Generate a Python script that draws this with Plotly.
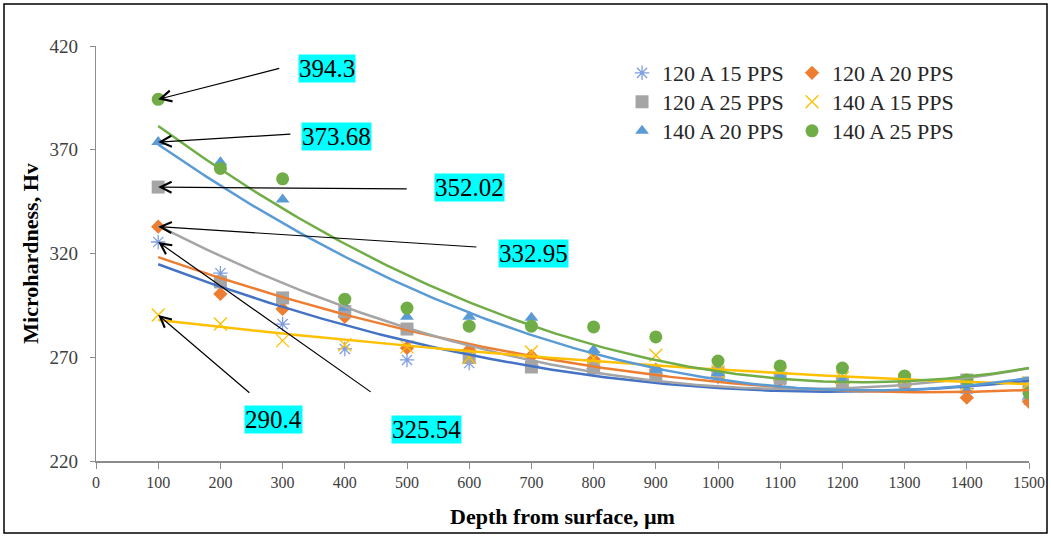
import numpy as np
import plotly.graph_objects as go

depth = [100, 200, 300, 400, 500, 600, 700, 800, 900, 1000, 1100, 1200, 1300, 1400, 1500]

s_120_15 = [325.54, 310.5, 286, 274, 268.7, 267.2, 266, 264.5, 262, 260.5, 259, 257.5, 257, 255, 249.5]
s_120_20 = [332.95, 300.5, 293.3, 289.5, 274.5, 273.5, 270.5, 269, 264, 261.5, 259, 257.5, 256.5, 250.5, 248.5]
s_120_25 = [352.02, 306.3, 298.6, 292, 283.6, 270, 265.3, 264.8, 261, 262.4, 260, 257.5, 258.5, 259, 257.6]
s_140_15 = [290.4, 286, 278, 276, 275, 270, 272.5, 269.6, 271, 263, 262, 260, 259, 257, 257.6]
s_140_20 = [373.68, 364, 346, 294, 289.5, 289.5, 289, 273.5, 264, 262.4, 261, 259, 260, 254, 251.5]
s_140_25 = [394.3, 361, 356, 298, 293.7, 285, 285, 284.6, 279.8, 268.2, 265.8, 264.8, 261, 259, 252.8]

names = ["120 A 15 PPS", "120 A 20 PPS", "120 A 25 PPS", "140 A 15 PPS", "140 A 20 PPS", "140 A 25 PPS"]
series = [s_120_15, s_120_20, s_120_25, s_140_15, s_140_20, s_140_25]
marker_colors = ["#7F9EE0", "#ED7D31", "#A5A5A5", "#FFC000", "#5B9BD5", "#70AD47"]
line_colors = ["#4472C4", "#ED7D31", "#A5A5A5", "#FFC000", "#5B9BD5", "#70AD47"]
symbols = ["asterisk-open", "diamond", "square", "x-thin-open", "triangle-up", "circle"]
sizes = [12, 11, 13, 13, 12, 13]

# one legend per entry, laid out in 2 columns x 3 rows
legend_ids = ["legend", "legend2", "legend3", "legend4", "legend5", "legend6"]
legend_x = [0.5638, 0.746, 0.5638, 0.746, 0.5638, 0.746]
legend_y = [0.9855, 0.9855, 0.9157, 0.9157, 0.8458, 0.8458]

# annotation labels
label_texts = ["394.3", "373.68", "352.02", "332.95", "325.54", "290.4"]
label_heads = [394.3, 373.68, 352.02, 332.95, 325.54, 290.4]
tail_x = [297, 315, 502, 614, 444, 249]
tail_y = [409.4, 377.6, 351.1, 323.1, 252.8, 252.3]
lab_x = [371, 387, 601, 704, 532, 285]
lab_y = [409.4, 376.6, 351.6, 320.2, 235.4, 239.8]

fig = go.Figure()

for i in range(6):
    mk = dict(color=marker_colors[i], size=sizes[i], symbol=symbols[i])
    if "open" in symbols[i]:
        mk["line"] = dict(color=marker_colors[i], width=1.3)
    else:
        mk["line"] = dict(width=0)
    fig.add_trace(go.Scatter(x=depth, y=series[i], mode="markers", name=names[i],
                             marker=mk, legend=legend_ids[i]))

xf = np.linspace(100, 1500, 200)
for i in range(6):
    c = np.polyfit(depth, series[i], 2)
    fig.add_trace(go.Scatter(x=xf, y=np.polyval(c, xf), mode="lines", showlegend=False,
                             line=dict(color=line_colors[i], width=2.5), hoverinfo="skip"))

for i in range(6):
    fig.add_annotation(x=100, y=label_heads[i], ax=tail_x[i], ay=tail_y[i], axref="x", ayref="y",
                       xref="x", yref="y", text="", showarrow=True, arrowhead=5, arrowsize=1.8,
                       arrowwidth=1.2, arrowcolor="black")
    fig.add_annotation(x=lab_x[i], y=lab_y[i], xref="x", yref="y", text=label_texts[i],
                       showarrow=False, bgcolor="#00FFFF", borderpad=0,
                       font=dict(family="Liberation Serif", size=25, color="black"))

fig.add_shape(type="rect", xref="paper", yref="paper", x0=-0.0986, x1=1.0193, y0=-0.1735, y1=1.1012,
              line=dict(color="black", width=1.5), layer="below")

legend_layout = {}
for i in range(6):
    legend_layout[legend_ids[i]] = dict(
        x=legend_x[i], y=legend_y[i], xanchor="left", yanchor="top", bgcolor="rgba(0,0,0,0)",
        font=dict(family="Liberation Serif", size=22, color="#262626"))

fig.update_layout(
    width=1051, height=536,
    margin=dict(l=96, r=22, t=46, b=75, autoexpand=False),
    plot_bgcolor="white", paper_bgcolor="white",
    xaxis=dict(range=[0, 1500], tick0=0, dtick=100, showgrid=False, zeroline=False, automargin=False,
               showline=True, linecolor="#8C8C8C", linewidth=2, ticks="outside", ticklen=6,
               tickcolor="#8C8C8C", tickfont=dict(family="Liberation Serif", size=16, color="#404040"),
               title=dict(text="<b>Depth from surface, µm</b>", standoff=18,
                          font=dict(family="Liberation Serif", size=22, color="black"))),
    yaxis=dict(range=[220, 420], tick0=220, dtick=50, showgrid=False, zeroline=False, automargin=False,
               showline=True, linecolor="#8C8C8C", linewidth=1.3, ticks="outside", ticklen=5,
               ticklabelstandoff=8,
               tickcolor="#8C8C8C", tickfont=dict(family="Liberation Serif", size=19, color="#404040"),
               title=dict(text="<b>Microhardness, Hv</b>", standoff=4,
                          font=dict(family="Liberation Serif", size=22, color="black"))),
    **legend_layout,
)

fig.write_html("out.html")
